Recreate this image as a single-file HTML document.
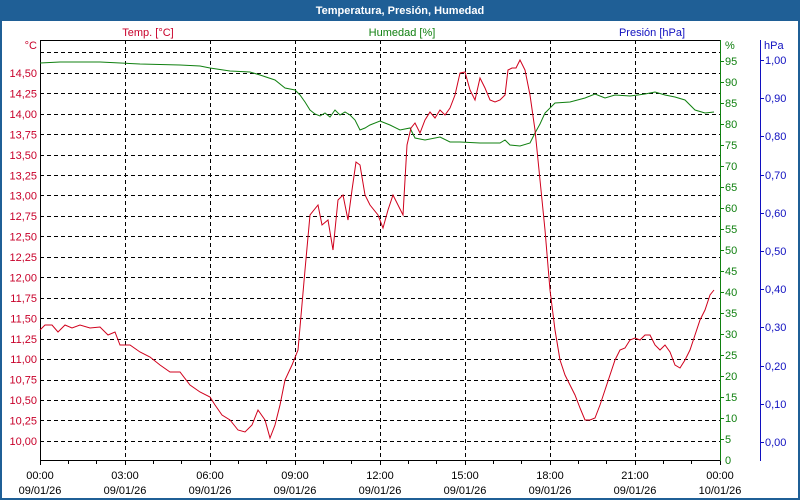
<!DOCTYPE html>
<html><head><meta charset="utf-8"><style>
html,body{margin:0;padding:0;background:#fff}
svg{display:block;font-family:"Liberation Sans",sans-serif;font-size:11px}
</style></head><body>
<svg width="800" height="500" viewBox="0 0 800 500">
<rect x="0" y="0" width="800" height="500" fill="#1f5f96"/>
<rect x="2" y="21" width="796" height="477" fill="#fff"/>
<text x="400" y="14" fill="#fff" font-weight="bold" text-anchor="middle" font-size="11">Temperatura, Presión, Humedad</text>
<text x="148" y="36" fill="#c8002a" text-anchor="middle">Temp. [°C]</text>
<text x="402" y="36" fill="#108010" text-anchor="middle">Humedad [%]</text>
<text x="652" y="36" fill="#1010c0" text-anchor="middle">Presión [hPa]</text>
<g stroke="#000" stroke-dasharray="4,3" stroke-width="1">
<line x1="40" x2="720" y1="52.5" y2="52.5"/><line x1="40" x2="720" y1="73.5" y2="73.5"/><line x1="40" x2="720" y1="93.5" y2="93.5"/><line x1="40" x2="720" y1="114.5" y2="114.5"/><line x1="40" x2="720" y1="134.5" y2="134.5"/><line x1="40" x2="720" y1="155.5" y2="155.5"/><line x1="40" x2="720" y1="175.5" y2="175.5"/><line x1="40" x2="720" y1="195.5" y2="195.5"/><line x1="40" x2="720" y1="216.5" y2="216.5"/><line x1="40" x2="720" y1="236.5" y2="236.5"/><line x1="40" x2="720" y1="257.5" y2="257.5"/><line x1="40" x2="720" y1="277.5" y2="277.5"/><line x1="40" x2="720" y1="298.5" y2="298.5"/><line x1="40" x2="720" y1="318.5" y2="318.5"/><line x1="40" x2="720" y1="339.5" y2="339.5"/><line x1="40" x2="720" y1="359.5" y2="359.5"/><line x1="40" x2="720" y1="380.5" y2="380.5"/><line x1="40" x2="720" y1="400.5" y2="400.5"/><line x1="40" x2="720" y1="420.5" y2="420.5"/><line x1="40" x2="720" y1="441.5" y2="441.5"/>
<line x1="125.5" x2="125.5" y1="40" y2="460"/><line x1="210.5" x2="210.5" y1="40" y2="460"/><line x1="295.5" x2="295.5" y1="40" y2="460"/><line x1="380.5" x2="380.5" y1="40" y2="460"/><line x1="465.5" x2="465.5" y1="40" y2="460"/><line x1="550.5" x2="550.5" y1="40" y2="460"/><line x1="635.5" x2="635.5" y1="40" y2="460"/>
</g>
<line x1="40" x2="720" y1="40.5" y2="40.5" stroke="#000"/>
<line x1="40.5" x2="40.5" y1="40" y2="461" stroke="#000"/>
<line x1="40" x2="721" y1="460.5" y2="460.5" stroke="#000"/>
<g stroke="#000">
<path d="M40.5 460v5M68.5 460v4M96.5 460v4M125.5 460v5M153.5 460v4M181.5 460v4M210.5 460v5M238.5 460v4M266.5 460v4M295.5 460v5M323.5 460v4M351.5 460v4M380.5 460v5M408.5 460v4M436.5 460v4M465.5 460v5M493.5 460v4M521.5 460v4M550.5 460v5M578.5 460v4M606.5 460v4M635.5 460v5M663.5 460v4M691.5 460v4M720.5 460v5"/>
</g>
<line x1="720.5" x2="720.5" y1="40" y2="461" stroke="#108010"/>
<g stroke="#108010"><path d="M720 439.5h4M720 418.5h4M720 397.5h4M720 376.5h4M720 355.5h4M720 334.5h4M720 313.5h4M720 292.5h4M720 271.5h4M720 250.5h4M720 229.5h4M720 208.5h4M720 187.5h4M720 166.5h4M720 145.5h4M720 124.5h4M720 103.5h4M720 82.5h4M720 61.5h4"/></g>
<line x1="760.5" x2="760.5" y1="40" y2="461" stroke="#1010c0"/>
<g stroke="#1010c0"><path d="M760 442.5h4M760 404.5h4M760 366.5h4M760 327.5h4M760 289.5h4M760 251.5h4M760 213.5h4M760 175.5h4M760 136.5h4M760 98.5h4M760 60.5h4"/></g>
<g fill="#c8002a" text-anchor="end">
<text x="37" y="49">°C</text>
<text x="37" y="445">10,00</text><text x="37" y="424.6">10,25</text><text x="37" y="404.1">10,50</text><text x="37" y="383.7">10,75</text><text x="37" y="363.2">11,00</text><text x="37" y="342.8">11,25</text><text x="37" y="322.4">11,50</text><text x="37" y="301.9">11,75</text><text x="37" y="281.5">12,00</text><text x="37" y="261">12,25</text><text x="37" y="240.6">12,50</text><text x="37" y="220.2">12,75</text><text x="37" y="199.7">13,00</text><text x="37" y="179.3">13,25</text><text x="37" y="158.8">13,50</text><text x="37" y="138.4">13,75</text><text x="37" y="118">14,00</text><text x="37" y="97.5">14,25</text><text x="37" y="77.1">14,50</text>
</g>
<g fill="#108010">
<text x="725" y="49">%</text>
<text x="725" y="464">0</text><text x="725" y="443">5</text><text x="725" y="422">10</text><text x="725" y="401">15</text><text x="725" y="380">20</text><text x="725" y="359">25</text><text x="725" y="338">30</text><text x="725" y="317">35</text><text x="725" y="296">40</text><text x="725" y="275">45</text><text x="725" y="254">50</text><text x="725" y="233">55</text><text x="725" y="212">60</text><text x="725" y="191">65</text><text x="725" y="170">70</text><text x="725" y="149">75</text><text x="725" y="128">80</text><text x="725" y="107">85</text><text x="725" y="86">90</text><text x="725" y="65">95</text>
</g>
<g fill="#1010c0">
<text x="764" y="49">hPa</text>
<text x="765" y="446">0,00</text><text x="765" y="408">0,10</text><text x="765" y="370">0,20</text><text x="765" y="331">0,30</text><text x="765" y="293">0,40</text><text x="765" y="255">0,50</text><text x="765" y="217">0,60</text><text x="765" y="179">0,70</text><text x="765" y="140">0,80</text><text x="765" y="102">0,90</text><text x="765" y="64">1,00</text>
</g>
<g fill="#000" text-anchor="middle">
<text x="40" y="479">00:00</text><text x="40" y="494">09/01/26</text>
<text x="125" y="479">03:00</text><text x="125" y="494">09/01/26</text>
<text x="210" y="479">06:00</text><text x="210" y="494">09/01/26</text>
<text x="295" y="479">09:00</text><text x="295" y="494">09/01/26</text>
<text x="380" y="479">12:00</text><text x="380" y="494">09/01/26</text>
<text x="465" y="479">15:00</text><text x="465" y="494">09/01/26</text>
<text x="550" y="479">18:00</text><text x="550" y="494">09/01/26</text>
<text x="635" y="479">21:00</text><text x="635" y="494">09/01/26</text>
<text x="720" y="479">00:00</text><text x="720" y="494">10/01/26</text>
</g>
<polyline fill="none" stroke="#108010" points="40,63 60,62 100,62 140,64 180,65 200,66 210,68 230,71 250,72 260,75 275,80 285,88 295,90 300,95 305,102 310,110 315,114 320,116 325,113 330,117 335,110 340,115 345,112 350,115 355,120 360,130 365,128 370,125 380,121 390,125 400,130 410,128 415,138 425,140 440,137 450,142 460,142 480,143 500,143 505,140 510,145 520,146 530,143 535,133 540,124 545,113 555,103 570,102 585,98 595,94 605,98 615,95 630,96 645,94 655,92 665,95 675,97 685,100 695,110 705,113 714,112"/>
<polyline fill="none" stroke="#d0001c" points="40,330 45,325 52,325 58,332 65,325 72,328 80,325 90,328 100,327 108,335 115,332 120,345 130,345 140,352 150,357 160,365 170,372 180,372 190,385 200,392 210,397 215,405 222,415 230,420 238,430 245,432 252,425 258,410 265,420 270,438 275,425 280,405 285,380 292,365 298,350 305,270 310,215 318,205 322,225 328,220 333,250 338,200 343,195 348,220 352,190 356,162 360,165 365,195 370,205 378,215 383,228 388,210 393,195 398,205 403,215 407,145 411,128 415,123 420,133 425,120 430,112 435,118 440,110 445,115 450,108 455,95 460,73 465,72 470,90 475,100 480,78 485,88 490,100 495,102 500,100 505,95 508,70 512,68 516,68 520,60 525,70 530,95 535,130 540,180 545,230 550,290 555,330 560,360 565,375 570,385 575,395 580,408 585,420 590,420 595,418 600,405 605,390 610,375 615,360 620,350 625,348 630,340 635,338 640,340 645,335 650,335 655,345 660,350 665,345 670,352 675,365 680,368 685,360 690,350 695,335 700,320 705,310 710,295 714,290"/>
</svg>
</body></html>
